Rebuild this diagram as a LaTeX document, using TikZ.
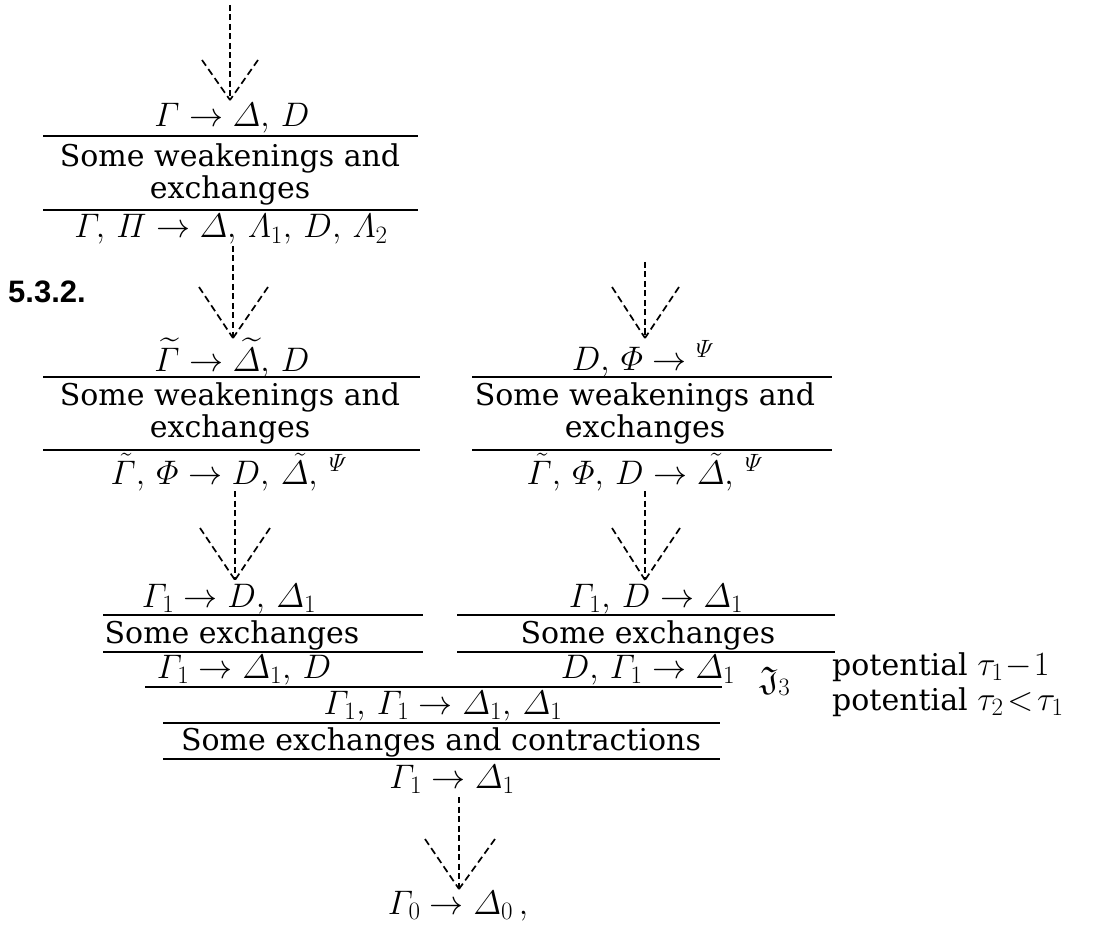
\documentclass[tikz,border=0pt]{standalone}
\usepackage{fix-cm}
\usepackage{amsmath,amssymb}
\usepackage[no-math]{fontspec}
\setmainfont{DejaVu Serif}
\newfontfamily\secfont{Liberation Sans}
\DeclareMathSizes{34}{34}{25}{19}
\newcommand{\cm}{,\mskip3mu}
\begin{document}
\begin{tikzpicture}[x=1pt,y=-1pt,
  lbl/.style={inner sep=0pt, anchor=base, font=\fontsize{30}{30}\selectfont},
  mth/.style={inner sep=0pt, anchor=base, font=\fontsize{34}{34}\selectfont},
  sec/.style={inner sep=0pt, anchor=base west, font=\fontsize{31}{31}\selectfont\secfont\bfseries},
  rulel/.style={line width=1.4pt},
  vdash/.style={line width=1.3pt, dash pattern=on 6pt off 3.5pt},
  hdash/.style={line width=1.7pt, dash pattern=on 7pt off 4pt},
  ]
\useasboundingbox (0,0) rectangle (1103,925);
\fill[white] (0,0) rectangle (1103,925);

% ---------- top block ----------
\coordinate (s1) at (230,5);
\coordinate (t1) at (230,100);
\coordinate (l1) at (202,60);
\coordinate (r1) at (258,60);
\draw[vdash] (s1) -- (t1);
\draw[hdash] (l1) -- (t1);
\draw[hdash] (r1) -- (t1);

\node[mth] (n1) at (232,127) {$\varGamma \rightarrow \varDelta\cm D$};
\draw[rulel] (43,136) -- (418,136);
\node[lbl] (w1) at (230,167) {Some weakenings and};
\node[lbl] (e1) at (230,199) {exchanges};
\draw[rulel] (43,210) -- (418,210);
\node[mth] (n2) at (231,238) {$\varGamma\cm \varPi \rightarrow \varDelta\cm \varLambda_1\cm D\cm \varLambda_2$};

\node[sec] (sec) at (8,303) {5.3.2.};

% ---------- arrow to left middle ----------
\coordinate (s2) at (233,246);
\coordinate (t2) at (233,338);
\coordinate (l2) at (199,287);
\coordinate (r2) at (268,287);
\draw[vdash] (s2) -- (t2);
\draw[hdash] (l2) -- (t2);
\draw[hdash] (r2) -- (t2);

% ---------- arrow to right middle ----------
\coordinate (s3) at (645,262);
\coordinate (t3) at (645,338);
\coordinate (l3) at (612,287);
\coordinate (r3) at (679,287);
\draw[vdash] (s3) -- (t3);
\draw[hdash] (l3) -- (t3);
\draw[hdash] (r3) -- (t3);

% ---------- left middle block ----------
\node[mth] (n3) at (232,371) {$\widetilde{\varGamma} \rightarrow \widetilde{\varDelta}\cm D$};
\draw[rulel] (43,377) -- (420,377);
\node[lbl] (w2) at (230,405) {Some weakenings and};
\node[lbl] (e2) at (230,437) {exchanges};
\draw[rulel] (43,450) -- (420,450);
\node[mth] (n4) at (229,484) {$\tilde{\varGamma}\cm \varPhi \rightarrow D\cm \tilde{\varDelta}\cm {}^{\varPsi}$};

% ---------- right middle block ----------
\node[mth] (n5) at (643,370) {$D\cm \varPhi \rightarrow {}^{\varPsi}$};
\draw[rulel] (472,377) -- (832,377);
\node[lbl] (w3) at (645,405) {Some weakenings and};
\node[lbl] (e3) at (645,437) {exchanges};
\draw[rulel] (472,450) -- (832,450);
\node[mth] (n6) at (645,484) {$\tilde{\varGamma}\cm \varPhi\cm D \rightarrow \tilde{\varDelta}\cm {}^{\varPsi}$};

% ---------- arrows to row 3 ----------
\coordinate (s4) at (235,491);
\coordinate (t4) at (235,580);
\coordinate (l4) at (200,528);
\coordinate (r4) at (270,528);
\draw[vdash] (s4) -- (t4);
\draw[hdash] (l4) -- (t4);
\draw[hdash] (r4) -- (t4);

\coordinate (s5) at (645,491);
\coordinate (t5) at (645,580);
\coordinate (l5) at (612,528);
\coordinate (r5) at (680,528);
\draw[vdash] (s5) -- (t5);
\draw[hdash] (l5) -- (t5);
\draw[hdash] (r5) -- (t5);

% ---------- row 3 left ----------
\node[mth] (n7) at (229,607) {$\varGamma_1 \rightarrow D\cm \varDelta_1$};
\draw[rulel] (103,615) -- (423,615);
\node[lbl] (x1) at (232,643) {Some exchanges};
\draw[rulel] (103,652) -- (423,652);
\node[mth] (n8) at (244,678) {$\varGamma_1 \rightarrow \varDelta_1\cm D$};

% ---------- row 3 right ----------
\node[mth] (n9) at (656,607) {$\varGamma_1\cm D \rightarrow \varDelta_1$};
\draw[rulel] (457,615) -- (835,615);
\node[lbl] (x2) at (648,643) {Some exchanges};
\draw[rulel] (457,652) -- (835,652);
\node[mth] (n10) at (648,678) {$D\cm \varGamma_1 \rightarrow \varDelta_1$};

\node[mth] (cut) at (775,690) {$\mathfrak{J}_3$};
\node[lbl, anchor=base west] (p1) at (832,675) {potential \fontsize{34}{34}\selectfont$\tau_1\!-\!1$};
\node[lbl, anchor=base west] (p2) at (832,710) {potential \fontsize{34}{34}\selectfont$\tau_2\!<\!\tau_1$};

% ---------- bottom block ----------
\draw[rulel] (145,687) -- (722,687);
\node[mth] (n11) at (443,714) {$\varGamma_1\cm \varGamma_1 \rightarrow \varDelta_1\cm \varDelta_1$};
\draw[rulel] (163,723) -- (720,723);
\node[lbl] (x3) at (441,750) {Some exchanges and contractions};
\draw[rulel] (163,759) -- (720,759);
\node[mth] (n12) at (452,788) {$\varGamma_1 \rightarrow \varDelta_1$};

\coordinate (s6) at (459,797);
\coordinate (t6) at (459,889);
\coordinate (l6) at (425,839);
\coordinate (r6) at (495,839);
\draw[vdash] (s6) -- (t6);
\draw[hdash] (l6) -- (t6);
\draw[hdash] (r6) -- (t6);

\node[mth] (n13) at (458,914) {$\varGamma_0 \rightarrow \varDelta_0\,,$};
\end{tikzpicture}
\end{document}
